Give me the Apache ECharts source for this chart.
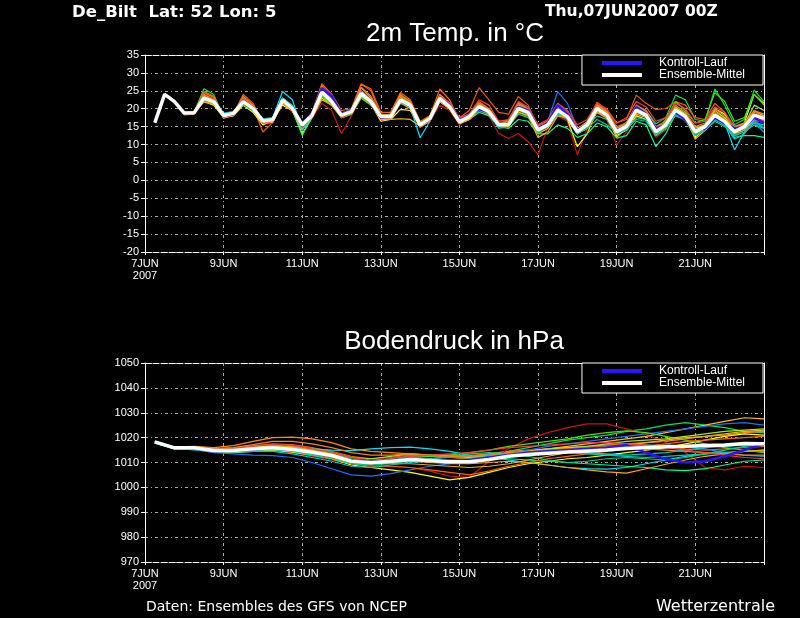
<!DOCTYPE html>
<html><head><meta charset="utf-8">
<script src="https://cdn.jsdelivr.net/npm/echarts@6/dist/echarts.min.js"></script>
<style>html,body{margin:0;padding:0;background:#000;}#c{width:800px;height:618px;}</style>
</head><body><div id="c"></div>
<script>
// ---- time axis (hours after 07JUN2007 00Z) ----
const tempHours = [6,12,18,24,30,36,42,48,54,60,66,72,78,84,90,96,102,108,114,120,126,132,138,144,150,156,162,168,174,180,186,192,198,204,210,216,222,228,234,240,246,252,258,264,270,276,282,288,294,300,306,312,318,324,330,336,342,348,354,360,366,372,378];
const pressHours = [6,18,30,42,54,66,78,90,102,114,126,138,150,162,174,186,198,210,222,234,246,258,270,282,294,306,318,330,342,354,366,378];
const xTickLabels = ['7JUN\n2007','9JUN','11JUN','13JUN','15JUN','17JUN','19JUN','21JUN'];
const tempTicks = [-20,-15,-10,-5,0,5,10,15,20,25,30,35];
const pressTicks = [970,980,990,1000,1010,1020,1030,1040,1050];

// ---- 2m temperature (°C) ----
const tMean = [16.1,24.0,22.0,
 18.8,18.9,23.0,22.0, 18.1,18.7,22.0,20.1, 16.6,16.9,22.4,20.1, 15.5,18.2,24.6,22.0, 18.2,19.2,24.3,22.0,
 17.8,17.8,22.4,21.0, 15.5,17.3,22.9,20.6, 16.4,17.8,20.6,19.2, 15.5,15.6,20.1,19.0, 14.1,15.5,19.6,17.8,
 13.6,15.5,20.1,18.2, 13.6,15.0,19.6,18.2, 13.6,15.5,19.6,17.8, 13.6,15.0,18.2,16.4, 13.6,15.0,18.2,17.3];
const tControl = [16.1,24.0,22.0,
 18.8,18.9,23.0,22.0, 18.0,18.6,22.2,20.3, 16.6,16.9,22.5,20.2, 15.8,18.5,25.8,23.5, 18.6,19.5,24.5,22.0,
 17.5,17.8,22.5,21.0, 15.5,17.0,23.0,21.0, 16.8,18.0,20.0,19.0, 15.8,15.5,20.5,19.5, 14.5,16.0,21.0,18.5,
 14.0,15.5,20.0,18.0, 14.0,14.8,20.5,18.5, 14.5,15.5,19.0,17.0, 14.0,14.5,17.5,16.0, 14.5,15.0,17.5,16.0];
const tGreen = [16.0,23.8,21.8,
 18.6,19.0,25.6,24.0, 17.6,18.5,21.5,19.6, 16.2,16.5,21.8,19.5, 15.0,18.6,25.0,22.5, 18.0,19.0,24.0,21.4,
 17.0,17.5,23.2,21.6, 15.8,16.9,22.2,20.0, 16.0,17.2,21.0,19.6, 15.0,16.0,20.8,19.2, 14.8,15.0,19.0,17.5,
 13.0,15.8,21.2,19.0, 14.5,16.2,20.5,19.5, 15.8,17.5,23.8,22.5, 17.0,16.5,25.5,21.0, 15.5,17.0,25.2,22.0];
const tOrange = [16.3,24.2,22.2,
 18.5,18.6,24.5,23.2, 17.3,18.4,23.5,21.0, 16.0,17.0,22.0,19.8, 14.5,17.8,26.5,23.5, 18.8,19.8,25.8,23.0,
 18.5,18.0,23.5,22.0, 15.0,17.8,24.0,21.5, 17.2,18.3,21.2,20.0, 16.2,16.0,21.0,19.8, 15.0,16.2,20.5,18.5,
 14.0,15.0,21.5,19.0, 14.5,15.8,20.5,19.0, 14.2,16.0,20.0,18.0, 14.0,14.8,18.8,17.0, 14.2,15.5,19.0,18.0];
const tDarkOrange = [16.2,24.1,22.1,
 18.4,18.8,24.0,22.8, 18.0,18.2,22.8,20.5, 13.5,16.2,23.0,20.5, 16.0,18.5,25.5,22.8, 18.5,19.5,26.8,25.0,
 18.2,18.5,23.8,22.0, 16.2,18.0,23.5,21.0, 17.5,19.5,25.9,22.5, 19.0,18.5,23.4,21.0, 14.5,16.8,21.5,19.0,
 14.0,16.5,21.0,19.5, 16.0,17.0,23.8,21.5, 19.8,20.0,22.0,21.0, 17.5,17.0,21.5,19.0, 15.0,16.0,19.5,17.0];
const tRed = [16.0,23.9,21.9,
 18.5,18.5,22.5,21.5, 17.8,19.0,22.2,19.5, 15.7,16.0,22.0,19.0, 15.0,17.5,21.5,19.5, 13.0,18.0,23.0,21.0,
 16.8,17.0,21.5,20.0, 15.5,16.5,21.0,19.5, 15.5,17.0,19.5,18.0, 13.1,11.7,13.1,10.8, 7.1,15.0,18.0,16.5,
 7.1,14.5,19.0,17.0, 9.9,13.5,18.0,17.0, 12.0,14.0,18.5,16.5, 13.5,14.0,17.5,16.0, 12.5,13.5,16.5,15.0];
const tYellow = [16.2,24.0,22.1,
 18.9,19.0,22.0,21.0, 17.5,18.0,21.0,19.0, 15.5,16.8,21.0,19.5, 13.0,17.5,23.0,21.0, 17.5,18.5,23.5,21.5,
 16.5,17.0,19.8,19.5, 15.0,16.8,22.0,20.0, 15.8,17.0,20.0,18.5, 15.0,15.2,19.0,18.0, 13.5,15.0,19.0,17.0,
 9.4,13.0,19.5,17.5, 12.5,14.0,18.0,17.0, 12.5,14.5,19.0,17.0, 12.0,14.5,20.0,18.5, 14.5,16.0,24.0,21.5];
const tGold = [16.1,24.1,22.0,
 18.7,18.8,23.5,22.2, 18.2,19.0,22.5,20.8, 17.0,17.2,21.5,19.5, 14.0,18.0,24.0,22.0, 18.0,18.8,23.8,21.5,
 17.0,17.0,17.2,17.0, 15.2,17.5,23.5,21.0, 17.0,18.0,20.8,19.0, 15.5,15.0,19.5,18.5, 13.0,14.5,18.5,17.0,
 13.0,15.0,19.0,17.5, 12.0,14.5,19.0,18.0, 12.5,15.0,19.5,18.0, 11.5,14.0,17.5,16.0, 13.0,14.5,17.5,16.5];
const tCyan = [16.0,24.0,22.0,
 18.8,19.2,22.8,21.8, 18.5,19.2,22.8,20.5, 16.2,17.5,24.8,22.5, 14.0,18.5,24.0,21.5, 17.8,19.0,23.0,21.5,
 18.0,18.5,22.0,20.5, 11.9,16.5,22.0,20.0, 16.5,17.5,20.0,19.0, 15.8,15.5,20.5,19.5, 13.5,15.5,20.0,18.0,
 13.0,15.5,20.0,18.5, 13.5,15.0,19.0,18.0, 13.0,15.5,19.5,17.5, 13.0,15.0,18.5,16.0, 8.5,13.5,17.0,16.0];
const tLightBlue = [16.2,24.0,22.0,
 19.0,19.0,22.5,21.5, 18.5,18.8,21.5,19.8, 16.8,17.0,22.5,20.5, 16.0,18.8,25.0,22.5, 18.5,19.2,23.5,21.0,
 17.5,17.8,22.5,21.0, 15.8,17.0,23.0,20.5, 16.8,18.0,21.0,19.5, 15.0,15.5,20.0,18.8, 14.0,15.5,19.5,18.0,
 14.0,16.0,20.5,18.0, 14.0,15.5,20.5,19.0, 14.5,16.0,19.0,17.5, 14.0,15.5,18.0,16.5, 12.5,14.0,16.0,13.5];
const tBlue = [16.1,24.0,22.0,
 18.8,19.1,23.5,22.5, 18.0,18.5,22.2,20.2, 16.5,16.8,22.2,20.2, 15.5,18.3,25.2,22.5, 18.3,19.0,24.5,22.5,
 17.8,17.5,22.0,21.0, 15.5,17.0,23.0,21.0, 16.2,17.5,21.0,19.5, 15.2,15.8,20.5,19.5, 14.8,16.5,24.8,21.5,
 14.5,16.0,20.5,18.5, 13.0,14.5,20.0,18.5, 14.0,15.5,19.0,17.5, 13.5,14.5,18.0,16.5, 13.5,14.0,17.0,14.5];
const tSpring = [16.0,23.9,21.9,
 18.9,19.0,23.0,22.0, 18.0,18.7,21.8,20.0, 16.8,17.0,21.8,19.8, 12.5,17.8,23.5,21.5, 18.0,19.0,24.0,21.8,
 17.5,17.5,22.0,20.8, 15.0,17.0,22.5,20.5, 16.0,17.0,19.0,18.0, 15.0,14.5,17.0,16.5, 13.0,13.0,15.5,14.5,
 12.0,13.0,16.0,15.0, 11.8,12.5,16.5,15.5, 9.4,13.0,18.5,17.0, 13.0,14.0,17.0,15.5, 12.0,12.5,12.5,12.0];
const tLime = [16.2,24.1,22.1,
 18.6,18.9,22.2,21.5, 18.5,19.0,21.0,19.5, 16.5,17.0,23.0,20.8, 15.5,18.5,23.5,21.0, 17.5,18.5,23.0,21.0,
 18.5,18.0,22.8,21.5, 16.0,17.8,23.5,21.0, 16.5,18.0,21.5,20.0, 16.0,16.5,21.5,19.5, 14.5,16.0,19.5,17.8,
 14.0,15.5,20.5,18.5, 14.0,15.0,20.0,18.0, 14.0,17.0,22.0,19.5, 16.0,17.0,24.5,22.0, 16.5,17.5,24.0,21.0];
const tOrange2 = [16.1,24.2,22.2,
 18.3,18.5,24.8,23.5, 18.0,18.6,24.0,21.5, 16.0,16.5,22.8,20.8, 15.0,19.0,27.0,24.0, 19.5,20.0,27.0,25.5,
 19.0,19.0,24.5,22.5, 16.5,18.0,25.5,22.5, 16.8,18.5,22.0,20.0, 16.5,16.8,21.8,20.0, 15.5,16.5,21.0,19.0,
 14.5,16.0,21.8,19.5, 15.0,16.0,20.5,19.0, 14.8,16.2,20.5,18.5, 14.5,15.5,19.0,17.5, 14.5,15.0,18.5,17.0];
const tTeal = [16.0,23.9,22.0,
 19.0,19.2,22.8,21.8, 18.8,19.2,21.5,19.5, 17.2,17.5,22.0,19.8, 16.2,18.0,23.8,21.5, 18.0,19.0,24.0,21.8,
 17.5,17.8,21.5,20.5, 15.5,17.0,22.5,20.5, 16.5,17.5,19.5,18.5, 14.5,15.0,18.5,17.5, 13.5,15.0,18.5,17.0,
 13.5,15.0,18.0,17.0, 13.0,14.0,17.5,17.0, 13.5,15.0,18.0,17.0, 13.5,15.0,17.0,15.5, 14.0,14.5,16.0,15.5];
const tAmber = [16.2,24.0,22.0,
 18.8,18.7,22.0,21.2, 18.3,18.3,21.5,19.8, 16.0,16.2,21.5,19.5, 15.2,17.6,22.5,21.0, 17.8,18.8,23.5,21.5,
 17.5,17.0,21.8,20.0, 14.8,16.5,22.0,20.0, 16.0,17.0,20.0,18.5, 15.5,15.0,19.0,18.0, 12.0,13.5,18.0,17.5,
 13.0,14.5,19.0,17.5, 13.0,15.0,18.5,17.5, 14.0,16.0,20.0,18.5, 13.0,14.5,17.5,16.5, 13.0,14.0,17.0,16.0];
const tYellowGreen = [16.1,23.9,22.1,
 18.9,18.8,22.6,21.6, 18.2,18.9,22.5,20.5, 16.4,17.1,21.8,19.8, 15.8,18.0,24.2,21.8, 17.8,19.0,23.8,21.5,
 17.5,18.0,23.0,21.5, 16.0,17.5,22.5,20.5, 16.5,17.8,21.0,19.5, 15.8,16.0,20.5,19.2, 14.5,15.8,20.5,18.5,
 14.5,16.2,21.0,19.0, 14.0,15.5,20.0,18.5, 14.0,15.5,20.5,18.5, 14.5,15.5,19.5,17.5, 14.0,15.5,21.0,19.5];
const tAqua = [16.0,24.0,22.0,
 18.7,19.0,23.2,22.2, 18.3,18.8,22.0,20.0, 17.0,17.3,22.0,20.0, 15.5,18.0,24.5,21.8, 18.5,19.5,24.2,22.0,
 18.0,17.8,21.8,20.5, 15.8,17.5,22.8,20.5, 16.8,17.8,20.2,19.0, 15.5,15.5,19.5,18.5, 14.0,15.0,18.8,17.5,
 13.0,14.5,17.0,15.5, 13.5,14.5,17.0,16.5, 12.5,14.5,18.5,17.0, 13.0,14.0,16.5,15.0, 12.5,13.5,15.5,14.5];
const tDarkYellow = [16.2,24.1,22.0,
 18.8,18.9,23.8,22.5, 18.5,18.8,22.5,20.5, 16.5,16.5,22.5,20.0, 15.0,18.0,25.0,22.5, 18.5,19.0,25.0,22.5,
 18.0,18.0,22.8,21.2, 15.5,17.2,23.2,21.0, 16.5,17.5,20.5,19.0, 15.5,15.8,20.5,19.0, 14.0,15.5,19.5,17.5,
 13.5,15.5,20.5,18.5, 13.0,15.0,19.5,18.0, 13.0,15.0,19.5,17.5, 13.0,15.0,18.5,17.0, 13.5,15.5,19.5,18.0];
const tOrange3 = [16.1,24.0,22.1,
 18.6,18.7,23.8,22.6, 17.8,18.4,23.0,20.8, 16.3,16.6,22.8,20.5, 15.2,18.2,26.0,23.0, 18.8,19.5,26.0,23.5,
 18.3,18.2,24.0,22.0, 15.8,17.5,24.0,21.5, 17.0,18.2,21.5,20.0, 16.0,16.5,21.5,20.0, 15.0,16.0,20.5,18.8,
 14.5,16.0,21.0,19.0, 14.5,16.0,21.0,19.5, 15.0,16.5,21.0,19.0, 15.0,16.0,20.0,18.0, 15.0,16.0,19.5,18.5];
const tSkyTeal = [16.1,24.0,21.9,
 19.0,19.1,22.8,21.8, 18.7,19.0,22.0,20.0, 16.9,17.2,23.0,21.0, 15.0,18.5,24.5,22.0, 18.0,19.0,24.0,21.8,
 17.8,18.2,22.2,20.8, 15.3,17.0,22.8,20.8, 16.2,17.6,20.5,19.2, 15.2,15.5,19.8,18.8, 13.8,15.2,19.2,17.5,
 13.2,15.2,19.8,18.0, 13.2,14.5,19.0,17.8, 13.0,15.0,19.0,17.0, 12.5,14.0,17.5,15.5, 11.5,13.0,16.5,14.5];
const tRed2 = [16.2,24.1,22.0,
 18.5,18.6,23.5,22.5, 17.5,18.2,22.8,20.5, 16.0,16.5,22.0,19.5, 14.8,17.8,25.5,23.0, 17.5,18.8,24.8,22.5,
 17.2,17.5,22.8,21.2, 15.2,17.0,23.5,21.5, 17.5,18.5,22.5,21.0, 16.5,17.0,22.0,20.5, 15.5,17.0,21.5,19.5,
 15.5,17.0,21.5,20.0, 16.0,17.5,22.0,20.5, 16.5,17.5,21.5,20.0, 16.0,16.5,20.5,19.0, 14.5,15.5,18.0,16.5];

// ---- surface pressure (hPa) ----
const pMean = [1018.3,1015.9,1015.9,1014.8,1014.8,1015.5,1015.9,1015.2,1014.1,1012.8,1010.5,1009.9,1010.5,1011.2,1010.8,1010.3,1010.3,1011.2,1012.5,1013.2,1013.7,1014.2,1014.6,1015.0,1015.6,1016.0,1016.3,1016.5,1016.8,1017.0,1017.6,1017.5];
const pControl = [1018.3,1015.9,1015.8,1014.8,1014.6,1015.3,1015.8,1015.0,1014.0,1012.8,1010.8,1010.2,1010.8,1011.5,1011.0,1010.8,1011.0,1012.0,1013.0,1014.0,1014.5,1015.0,1015.5,1016.0,1017.0,1014.0,1011.3,1010.0,1010.5,1012.5,1015.0,1017.5];
const pGreen = [1017.8,1015.5,1015.2,1014.2,1014.5,1015.8,1016.5,1016.0,1015.0,1013.5,1011.5,1010.5,1011.0,1012.0,1011.5,1011.0,1012.0,1013.5,1014.5,1016.0,1017.5,1019.0,1020.0,1021.0,1022.5,1023.5,1025.0,1026.0,1025.0,1024.0,1022.5,1022.0];
const pOrange = [1018.5,1016.2,1016.5,1016.0,1016.8,1018.5,1020.0,1020.2,1019.5,1018.0,1015.5,1014.5,1014.0,1013.5,1013.0,1012.5,1012.8,1013.5,1014.5,1015.0,1015.5,1016.0,1016.5,1017.0,1017.5,1018.0,1018.5,1019.5,1020.5,1021.0,1022.0,1022.5];
const pDarkOrange = [1018.2,1016.0,1016.2,1015.5,1015.8,1016.8,1017.5,1017.2,1016.0,1014.5,1012.5,1011.5,1012.0,1013.0,1012.5,1012.0,1011.5,1012.5,1014.0,1014.5,1015.0,1015.5,1016.0,1016.8,1017.5,1017.0,1016.5,1015.5,1015.0,1015.5,1016.0,1016.5];
const pRed = [1018.4,1016.0,1015.8,1014.5,1014.2,1014.8,1015.0,1014.0,1012.5,1011.0,1009.5,1009.0,1008.5,1008.0,1006.5,1004.5,1004.0,1010.5,1015.5,1019.5,1022.0,1024.0,1025.5,1025.5,1023.5,1021.3,1018.0,1014.0,1008.0,1007.0,1008.5,1008.0];
const pYellow = [1018.0,1015.8,1015.5,1014.5,1014.0,1014.5,1015.0,1014.2,1013.0,1011.5,1009.0,1008.0,1007.0,1006.0,1004.5,1003.0,1004.0,1006.0,1008.0,1009.5,1010.5,1011.5,1012.0,1013.0,1014.0,1015.0,1016.0,1017.5,1019.0,1020.5,1021.5,1021.0];
const pGold = [1018.3,1016.0,1016.0,1015.0,1015.2,1016.0,1016.5,1016.0,1015.0,1013.5,1011.0,1010.5,1011.0,1011.5,1011.0,1010.5,1011.0,1012.0,1013.5,1014.5,1015.5,1016.5,1017.5,1018.5,1019.5,1020.5,1022.0,1023.5,1025.0,1026.5,1028.0,1027.5];
const pCyan = [1018.0,1015.5,1015.2,1014.5,1014.8,1015.5,1016.0,1015.8,1015.5,1015.0,1014.8,1015.5,1016.0,1016.2,1015.5,1014.5,1013.0,1012.0,1011.0,1010.0,1009.0,1008.0,1007.5,1007.3,1008.0,1009.5,1011.0,1012.5,1013.5,1014.0,1014.5,1015.0];
const pLightBlue = [1018.2,1015.8,1015.5,1014.8,1014.5,1015.0,1015.5,1014.8,1013.5,1012.0,1010.0,1009.5,1010.0,1011.0,1011.5,1012.0,1012.5,1013.0,1013.5,1014.0,1014.5,1015.0,1015.5,1016.0,1016.5,1017.0,1017.0,1016.5,1015.5,1014.0,1013.0,1012.5];
const pBlue = [1018.1,1015.6,1015.3,1014.0,1013.5,1013.0,1012.8,1012.0,1010.0,1007.5,1005.0,1004.5,1005.5,1007.0,1008.5,1009.5,1010.5,1012.0,1013.5,1015.0,1016.5,1017.5,1018.5,1019.5,1020.5,1021.5,1022.5,1023.5,1024.5,1025.5,1026.0,1025.0];
const pSpring = [1017.9,1015.6,1015.5,1014.5,1014.6,1015.2,1015.5,1015.0,1013.8,1012.5,1011.0,1010.5,1011.5,1012.5,1013.0,1013.0,1012.5,1012.0,1011.5,1011.0,1010.5,1010.0,1009.5,1009.0,1008.5,1008.0,1007.0,1006.7,1007.5,1009.0,1010.5,1011.0];
const pLime = [1018.3,1016.1,1016.1,1015.0,1015.0,1015.8,1016.2,1015.5,1014.5,1013.0,1011.0,1010.0,1010.8,1012.0,1012.5,1013.0,1014.0,1015.0,1016.5,1017.5,1018.5,1019.5,1021.0,1022.0,1022.7,1022.0,1020.5,1019.0,1017.5,1016.0,1015.0,1014.0];
const pOrange2 = [1018.4,1016.2,1016.3,1015.3,1015.2,1016.0,1016.5,1015.5,1014.0,1012.0,1009.5,1008.5,1008.5,1008.0,1007.0,1006.0,1005.0,1006.5,1008.5,1010.0,1011.5,1012.5,1013.5,1014.5,1015.5,1016.5,1017.5,1018.5,1019.0,1019.5,1020.0,1020.5];
const pTeal = [1018.1,1015.8,1015.8,1014.8,1014.8,1015.5,1016.0,1015.5,1014.5,1013.0,1011.0,1010.0,1010.5,1011.0,1010.5,1010.0,1010.5,1011.5,1012.5,1013.5,1014.0,1014.0,1013.5,1013.0,1012.5,1012.0,1012.5,1013.0,1013.5,1014.0,1014.5,1014.5];
const pAmber = [1018.2,1015.9,1016.0,1015.0,1015.0,1015.6,1016.0,1015.2,1014.0,1012.5,1010.5,1009.5,1010.0,1010.5,1010.0,1009.5,1009.5,1010.0,1010.5,1010.0,1009.0,1008.0,1007.0,1006.2,1005.7,1007.5,1009.3,1011.0,1012.5,1013.5,1014.5,1015.0];
const pYellowGreen = [1018.2,1015.9,1016.0,1015.0,1015.2,1016.2,1016.8,1016.5,1015.5,1014.0,1012.0,1011.5,1012.5,1013.5,1013.0,1012.5,1012.0,1012.5,1013.5,1014.5,1015.5,1016.0,1016.5,1017.5,1018.5,1019.0,1019.5,1020.5,1021.5,1022.5,1023.0,1023.5];
const pAqua = [1018.0,1015.7,1015.6,1014.6,1014.5,1015.0,1015.2,1014.5,1013.0,1011.5,1009.5,1009.0,1009.5,1010.5,1011.5,1012.5,1013.5,1014.0,1013.5,1012.5,1011.0,1010.0,1010.5,1011.5,1012.0,1011.5,1011.0,1012.0,1013.5,1015.0,1016.5,1017.5];
const pDarkYellow = [1018.3,1016.0,1016.2,1015.2,1015.5,1016.5,1017.0,1016.5,1015.0,1013.0,1011.0,1010.0,1009.5,1009.5,1009.0,1008.5,1008.0,1008.5,1009.5,1011.0,1012.5,1014.0,1015.0,1016.0,1017.0,1018.0,1019.0,1020.0,1020.5,1021.5,1022.5,1023.0];
const pOrange3 = [1018.4,1016.1,1016.4,1015.6,1016.0,1017.2,1018.5,1018.5,1017.5,1016.0,1014.0,1013.0,1013.0,1013.5,1013.0,1012.5,1012.5,1013.0,1014.0,1014.5,1015.0,1015.5,1016.0,1016.5,1016.0,1015.5,1015.0,1014.5,1014.0,1013.5,1013.0,1013.0];
const pSkyTeal = [1018.1,1015.7,1015.5,1014.5,1014.2,1014.5,1014.5,1013.5,1012.0,1010.5,1008.5,1008.0,1009.0,1010.0,1010.5,1011.0,1011.5,1012.5,1013.5,1014.0,1014.5,1014.5,1014.0,1013.5,1013.0,1013.5,1014.0,1015.0,1016.0,1016.5,1017.0,1017.5];
const pRed2 = [1018.2,1016.0,1016.2,1015.4,1015.6,1016.5,1017.2,1016.8,1015.5,1014.0,1012.0,1011.0,1011.5,1012.5,1013.0,1013.5,1014.0,1015.0,1016.0,1016.5,1017.0,1017.5,1018.0,1018.0,1017.5,1017.0,1016.0,1015.0,1014.0,1013.0,1012.0,1011.5];

// ---- member styling ----
const members = [
  {name:'m01', color:'#00e650', t:tGreen,       p:pGreen},
  {name:'m02', color:'#ff8c00', t:tOrange,      p:pOrange},
  {name:'m03', color:'#ec5a0a', t:tDarkOrange,  p:pDarkOrange},
  {name:'m04', color:'#c81414', t:tRed,         p:pRed},
  {name:'m05', color:'#ffff00', t:tYellow,      p:pYellow},
  {name:'m06', color:'#ffc000', t:tGold,        p:pGold},
  {name:'m07', color:'#00e1ff', t:tCyan,        p:pCyan},
  {name:'m08', color:'#00a0ff', t:tLightBlue,   p:pLightBlue},
  {name:'m09', color:'#1e6eff', t:tBlue,        p:pBlue},
  {name:'m10', color:'#00ff90', t:tSpring,      p:pSpring},
  {name:'m11', color:'#50dc00', t:tLime,        p:pLime},
  {name:'m12', color:'#ff6400', t:tOrange2,     p:pOrange2},
  {name:'m13', color:'#00c8b4', t:tTeal,        p:pTeal},
  {name:'m14', color:'#ffa500', t:tAmber,       p:pAmber},
  {name:'m15', color:'#a0e632', t:tYellowGreen, p:pYellowGreen},
  {name:'m16', color:'#00d28c', t:tAqua,        p:pAqua},
  {name:'m17', color:'#e6af2d', t:tDarkYellow,  p:pDarkYellow},
  {name:'m18', color:'#f08228', t:tOrange3,     p:pOrange3},
  {name:'m19', color:'#00c8c8', t:tSkyTeal,     p:pSkyTeal},
  {name:'m20', color:'#fa3c3c', t:tRed2,        p:pRed2}
];
const CONTROL = 'Kontroll-Lauf', MEAN = 'Ensemble-Mittel';
const controlColor = '#2814ff', meanColor = '#ffffff';

function pairs(hours, vals){ return hours.map((h,i)=>[h, vals[i]]); }

const FONT = 'Liberation Sans';
const gridLine = {show:true, lineStyle:{color:'#a8a8a8', width:1, type:[3,3,1,3]}};

function xAxes(gi){
  return [
    {gridIndex:gi, type:'value', min:0, max:378, interval:48, position:'bottom',
     axisLine:{onZero:false, lineStyle:{color:'#fff', width:1, type:[6,2]}},
     axisTick:{show:true, length:3, lineStyle:{color:'#fff'}},
     axisLabel:{color:'#fff', fontFamily:FONT, fontSize:11, lineHeight:12, margin:6,
       formatter:v=>xTickLabels[Math.round(v/48)] || ''},
     splitLine:gridLine},
    {gridIndex:gi, type:'value', min:0, max:378, interval:48, position:'top',
     axisLine:{show:true, onZero:false, lineStyle:{color:'#fff', width:1, type:[6,2]}},
     axisTick:{show:false}, axisLabel:{show:false}, splitLine:{show:false}}
  ];
}
function yAxes(gi, min, max, step){
  return [
    {gridIndex:gi, type:'value', min:min, max:max, interval:step, position:'left',
     axisLine:{show:true, onZero:false, lineStyle:{color:'#fff', width:1}},
     axisTick:{show:true, length:4, lineStyle:{color:'#fff'}},
     axisLabel:{color:'#fff', fontFamily:FONT, fontSize:11, margin:6, formatter:v=>String(v)},
     splitLine:gridLine},
    {gridIndex:gi, type:'value', min:min, max:max, interval:step, position:'right',
     axisLine:{show:true, onZero:false, lineStyle:{color:'#fff', width:1}},
     axisTick:{show:false}, axisLabel:{show:false}, splitLine:{show:false}}
  ];
}

const series = [];
function addPanel(gi, key, hours, ctrl, mean){
  const xi = gi*2, yi = gi*2;
  members.forEach(m => series.push({
    name:m.name, type:'line', xAxisIndex:xi, yAxisIndex:yi, data:pairs(hours, m[key]),
    showSymbol:false, color:m.color, lineStyle:{width:1.2, color:m.color}, silent:true, z:2
  }));
  series.push({name:CONTROL, type:'line', xAxisIndex:xi, yAxisIndex:yi, data:pairs(hours, ctrl),
    showSymbol:false, color:controlColor, lineStyle:{width:2.5, color:controlColor}, z:3});
  series.push({name:MEAN, type:'line', xAxisIndex:xi, yAxisIndex:yi, data:pairs(hours, mean),
    showSymbol:false, color:meanColor, lineStyle:{width:3.5, color:meanColor}, z:4});
}
addPanel(0, 't', tempHours, tControl, tMean);
addPanel(1, 'p', pressHours, pControl, pMean);

function legend(top){
  return {
    data:[{name:CONTROL},{name:MEAN}], orient:'vertical', right:37, top:top,
    backgroundColor:'#000', borderColor:'#fff', borderWidth:1, padding:[2,18,4,20],
    itemWidth:40, itemHeight:4, itemGap:0, icon:'rect', selectedMode:false,
    textStyle:{color:'#fff', fontFamily:FONT, fontSize:12, lineHeight:11, padding:[0,0,0,12]}
  };
}

const chart = echarts.init(document.getElementById('c'), null, {renderer:'canvas'});
chart.setOption({
  backgroundColor:'#000',
  animation:false,
  grid:[
    {left:145, top:55, width:619, height:197},
    {left:145, top:363, width:619, height:199}
  ],
  xAxis:[...xAxes(0), ...xAxes(1)],
  yAxis:[...yAxes(0, tempTicks[0], tempTicks[tempTicks.length-1], 5),
         ...yAxes(1, pressTicks[0], pressTicks[pressTicks.length-1], 10)],
  legend:[legend(55), legend(363)],
  series:series,
  graphic:[
    {type:'text', left:72, top:4, style:{text:'De_Bilt  Lat: 52 Lon: 5', fill:'#fff', font:'bold 16.5px "DejaVu Sans"'}},
    {type:'text', left:545, top:4, style:{text:'Thu,07JUN2007 00Z', fill:'#fff', font:'bold 15.5px "DejaVu Sans"'}},
    {type:'text', x:455, y:34, style:{text:'2m Temp. in °C', fill:'#fff', font:'26px "Liberation Sans"', align:'center', verticalAlign:'middle'}},
    {type:'text', x:454, y:342, style:{text:'Bodendruck in hPa', fill:'#fff', font:'26px "Liberation Sans"', align:'center', verticalAlign:'middle'}},
    {type:'text', x:146, y:607, style:{text:'Daten: Ensembles des GFS von NCEP', fill:'#fff', font:'14px "DejaVu Sans"', verticalAlign:'middle'}},
    {type:'text', x:775, y:607, style:{text:'Wetterzentrale', fill:'#fff', font:'16px "DejaVu Sans"', align:'right', verticalAlign:'middle'}}
  ]
});
</script></body></html>
